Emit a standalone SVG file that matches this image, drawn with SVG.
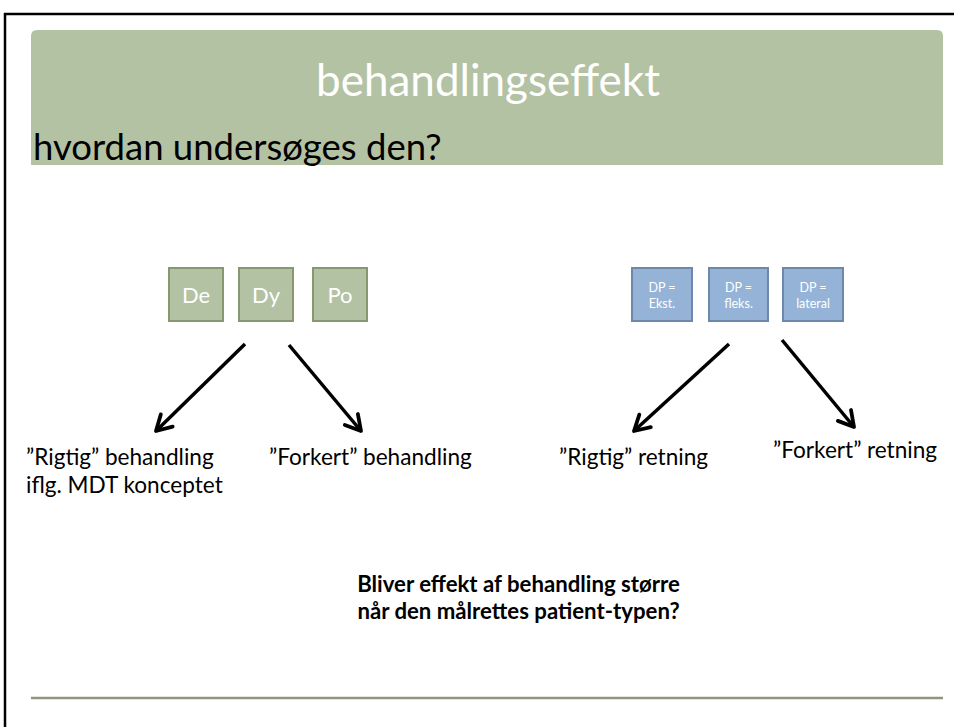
<svg xmlns="http://www.w3.org/2000/svg" width="954" height="727" viewBox="0 0 954 727">
<style>
.t{font-family:Lato,"Open Sans","Liberation Sans",sans-serif}
.lbl{font-size:22.6px;fill:#000}
.g{fill:#b3c2a3;stroke:#87976f;stroke-width:2}
.b{fill:#95b3d7;stroke:#6d88ab;stroke-width:2}
.wt{fill:#fff;text-anchor:middle}
.arr{stroke:#000;stroke-width:3.5;fill:none;marker-end:url(#ah)}
</style>
<defs>
<marker id="ah" markerUnits="userSpaceOnUse" viewBox="0 0 22 22" refX="18" refY="11" markerWidth="22" markerHeight="22" orient="auto">
<path d="M3,2.5 L18,11 L3,19.5" fill="none" stroke="#000" stroke-width="3.8" stroke-linecap="round" stroke-linejoin="round"/>
</marker>
</defs>
<rect width="954" height="727" fill="#fff"/>
<g id="frame">
<line x1="4" y1="14" x2="954" y2="14" stroke="#000" stroke-width="2.5"/>
<line x1="5" y1="13" x2="5" y2="727" stroke="#000" stroke-width="2.5"/>
</g>
<g id="header">
<path d="M31,165 L31,36 Q31,30 37,30 L937,30 Q943,30 943,36 L943,165 Z" fill="#b4c2a4"/>
<text class="t" x="488" y="96" font-size="44" fill="#fff" text-anchor="middle">behandlingseffekt</text>
<text class="t" x="33" y="160" font-size="36.5" fill="#000">hvordan undersøges den?</text>
</g>
<g id="node-de"><rect class="g" x="169" y="268" width="54" height="53"/><text class="t wt" x="196" y="302.5" font-size="22">De</text></g>
<g id="node-dy"><rect class="g" x="239" y="268" width="54" height="53"/><text class="t wt" x="266" y="302.5" font-size="22">Dy</text></g>
<g id="node-po"><rect class="g" x="313" y="268" width="54" height="53"/><text class="t wt" x="340" y="302.5" font-size="22">Po</text></g>
<g id="node-ekst"><rect class="b" x="632" y="268" width="60" height="53"/><text class="t wt" x="662" y="292" font-size="12.5">DP =</text><text class="t wt" x="662" y="308" font-size="12.5">Ekst.</text></g>
<g id="node-fleks"><rect class="b" x="709" y="268" width="59" height="53"/><text class="t wt" x="738.5" y="292" font-size="12.5">DP =</text><text class="t wt" x="738.5" y="308" font-size="12.5">fleks.</text></g>
<g id="node-lateral"><rect class="b" x="783" y="268" width="60" height="53"/><text class="t wt" x="813" y="292" font-size="12.5">DP =</text><text class="t wt" x="813" y="308" font-size="12.5">lateral</text></g>
<g id="connectors">
<line class="arr" x1="245" y1="344" x2="156" y2="431"/>
<line class="arr" x1="289" y1="345" x2="361" y2="431"/>
<line class="arr" x1="729" y1="344" x2="634" y2="431"/>
<line class="arr" x1="782" y1="340" x2="854" y2="427"/>
</g>
<g id="label-rigtig-beh"><text class="t lbl" x="26" y="465">”Rigtig” behandling</text><text class="t lbl" x="26" y="493">iflg. MDT konceptet</text></g>
<g id="label-forkert-beh"><text class="t lbl" x="269" y="465">”Forkert” behandling</text></g>
<g id="label-rigtig-ret"><text class="t lbl" x="559" y="465">”Rigtig” retning</text></g>
<g id="label-forkert-ret"><text class="t lbl" x="773" y="458">”Forkert” retning</text></g>
<g id="question">
<text class="t" x="518.5" y="592" font-size="22.2" font-weight="bold" text-anchor="middle">Bliver effekt af behandling større</text>
<text class="t" x="518.5" y="619" font-size="22.2" font-weight="bold" text-anchor="middle">når den målrettes patient-typen?</text>
</g>
<line x1="31" y1="698" x2="943" y2="698" stroke="#8e977c" stroke-width="2.5"/>
</svg>
